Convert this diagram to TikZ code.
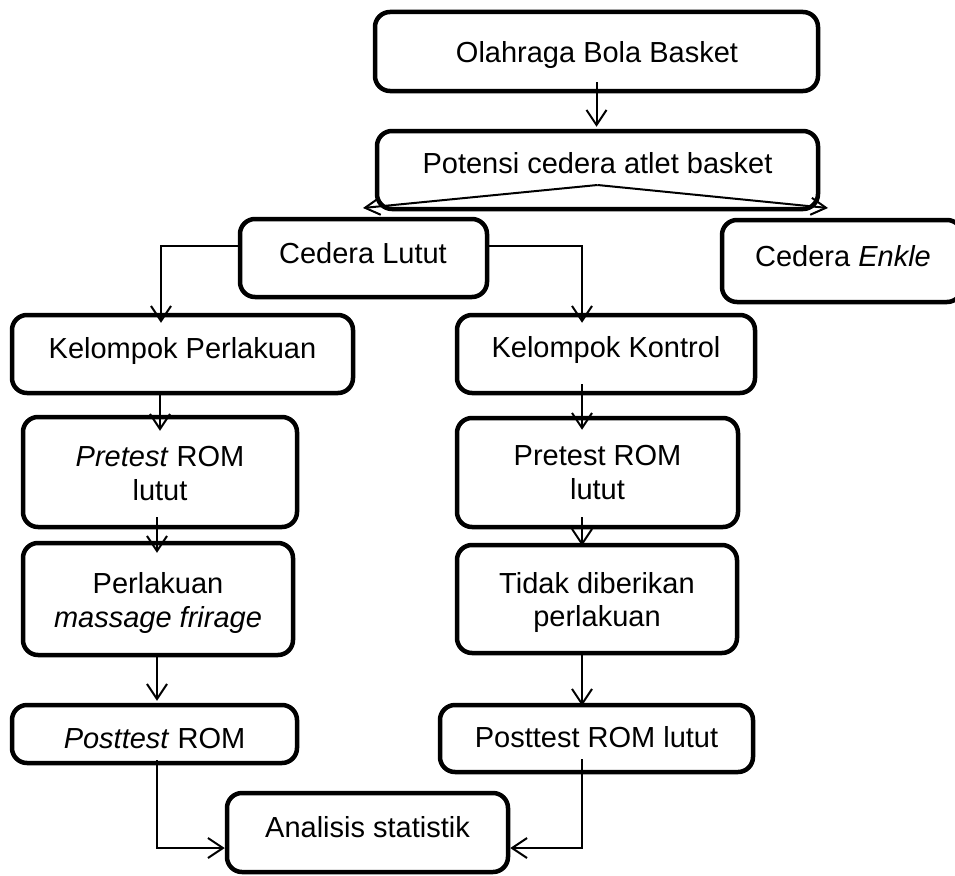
\documentclass[tikz,border=0pt]{standalone}
\usepackage{fontspec}
\setmainfont{Liberation Sans}
\usetikzlibrary{arrows.meta}
\begin{document}
\begin{tikzpicture}[x=1pt,y=-1pt,
  box/.style={draw, line width=4.5pt, rounded corners=15pt, inner sep=0pt},
  txt/.style={anchor=base, inner sep=0pt, font=\fontsize{29}{33}\selectfont},
  arr/.style={line width=2pt, -{Straight Barb[length=15pt,width=20pt]}},
  arrs/.style={line width=2pt, -{Straight Barb[length=15pt,width=17pt]}}
]
\useasboundingbox (0,0) rectangle (955,875);
\clip (0,0) rectangle (955,875);

% boxes
\node[box, minimum width=443pt, minimum height=79pt] (olah) at (596.5,51.5) {};
\node[box, minimum width=441pt, minimum height=78pt] (pot) at (597.5,170) {};
\node[box, minimum width=247pt, minimum height=78pt] (lutut) at (363.5,258) {};
\node[box, minimum width=240pt, minimum height=82pt] (enkle) at (842,261) {};
\node[box, minimum width=341pt, minimum height=78pt] (kp) at (182.5,354) {};
\node[box, minimum width=298pt, minimum height=78pt] (kk) at (606,354) {};
\node[box, minimum width=274pt, minimum height=110pt] (prel) at (160,472) {};
\node[box, minimum width=281pt, minimum height=109pt] (prer) at (597.5,472.5) {};
\node[box, minimum width=270pt, minimum height=112pt] (perl) at (158,599) {};
\node[box, minimum width=280pt, minimum height=108pt] (tidak) at (597,599) {};
\node[box, minimum width=285pt, minimum height=58pt] (postl) at (154.5,734) {};
\node[box, minimum width=313pt, minimum height=67pt] (postr) at (596.5,738.5) {};
\node[box, minimum width=281pt, minimum height=79pt] (anal) at (367.5,832.5) {};

% texts
\node[txt] (olah-t) at (597,63) {Olahraga Bola Basket};
\node[txt] (pot-t) at (597.5,173) {Potensi cedera atlet basket};
\node[txt] (lutut-t) at (363,263) {Cedera Lutut};
\node[txt] (enkle-t) at (843,266) {Cedera \textit{Enkle}};
\node[txt] (kp-t) at (182.5,358) {Kelompok Perlakuan};
\node[txt] (kk-t) at (606,357) {Kelompok Kontrol};
\node[txt] (prel-t1) at (160,466) {\textit{Pretest} ROM};
\node[txt] (prel-t2) at (160,500) {lutut};
\node[txt] (prer-t1) at (597.5,465) {Pretest ROM};
\node[txt] (prer-t2) at (597.5,499) {lutut};
\node[txt] (perl-t1) at (158,593) {Perlakuan};
\node[txt] (perl-t2) at (158,627) {\textit{massage frirage}};
\node[txt] (tidak-t1) at (597,593) {Tidak diberikan};
\node[txt] (tidak-t2) at (597,626) {perlakuan};
\node[txt] (postl-t) at (154.5,748) {\textit{Posttest} ROM};
\node[txt] (postr-t) at (596.5,747) {Posttest ROM lutut};
\node[txt] (anal-t) at (367.5,837) {Analisis statistik};

% connectors
\draw[arr, shorten <=-11pt, shorten >=2pt] (olah.south) -- (olah.south |- pot.north);

\coordinate (apex) at ([yshift=-15pt]pot.center);
\coordinate (tipL) at (363,208);
\coordinate (tipR) at (828,208);
\draw[arrs] (apex) -- (tipL);
\draw[arrs] (apex) -- (tipR);

\draw[arr, shorten >=-10pt] ([yshift=12pt]lutut.west) -| ([xshift=-21.5pt]kp.north);
\draw[arr, shorten >=-10pt] ([yshift=12pt]lutut.east) -| ([xshift=-24pt]kk.north);

\draw[arr, shorten >=-16pt] ([xshift=-22.5pt]kp.south) -- (prel.north);
\draw[arr, shorten <=-12pt, shorten >=-12pt] ([xshift=-3pt]prel.south) -- ([xshift=-1pt]perl.north);
\draw[arr, shorten >=2pt] ([xshift=-1pt]perl.south) -- ([xshift=2.5pt]postl.north);

\draw[arr, shorten <=-11pt, shorten >=-14pt] ([xshift=-24pt]kk.south) -- ([xshift=-15.5pt]prer.north);
\draw[arr, shorten <=-12pt, shorten >=-3pt] ([xshift=-15.5pt]prer.south) -- ([xshift=-15pt]tidak.north);
\draw[arr, shorten >=-3pt] ([xshift=-15pt]tidak.south) -- ([xshift=-14.5pt]postr.north);

\draw[arr, shorten <=-5pt] ([xshift=2.5pt]postl.south) |- ([yshift=-15.5pt]anal.west);
\draw[arr, shorten <=-15pt] ([xshift=-14.5pt]postr.south) |- ([yshift=-15.5pt]anal.east);
\end{tikzpicture}
\end{document}
